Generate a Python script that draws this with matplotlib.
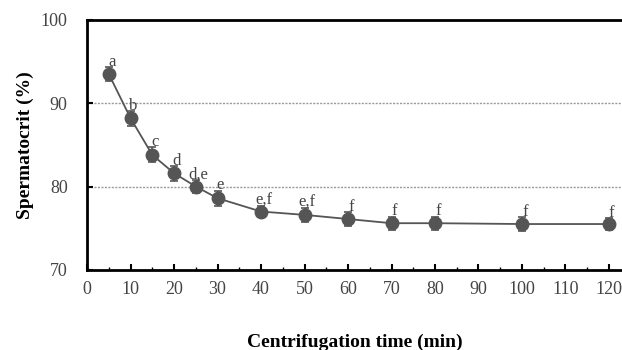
import numpy as np
from matplotlib import pyplot as plt
from matplotlib.ticker import MultipleLocator

time_min = [5, 10, 15, 20, 25, 30, 40, 50, 60, 70, 80, 100, 120]
spermatocrit = [93.5, 88.2, 83.8, 81.6, 80.0, 78.6, 77.0, 76.6, 76.1, 75.6, 75.6, 75.5, 75.5]
sem = [0.8, 0.9, 0.9, 0.9, 0.8, 0.9, 0.7, 0.8, 0.8, 0.8, 0.8, 0.8, 0.7]
letters = ['a', 'b', 'c', 'd', 'd,e', 'e', 'e,f', 'e,f', 'f', 'f', 'f', 'f', 'f']

plt.rcParams['font.family'] = ['Liberation Serif', 'DejaVu Serif']

fig = plt.figure(figsize=(6.22, 3.5), dpi=100)
ax = fig.add_axes([0.14, 0.229, 0.86, 0.714])

ax.set_xlim(0, 123)
ax.set_ylim(70, 100)

for y in (80, 90):
    ax.axhline(y, color='#9a9a9a', lw=1.0, ls=(0, (1.5, 1)), zorder=0)

ax.errorbar(time_min, spermatocrit, yerr=sem, fmt='-o', color='#555555',
            ecolor='#555555', elinewidth=1.2, capsize=3, capthick=1.2,
            markersize=9, markerfacecolor='#555555', markeredgecolor='#555555',
            lw=1.3, zorder=3)

for x, y, s, lab in zip(time_min, spermatocrit, sem, letters):
    ax.annotate(lab, (x, y + s), xytext=(2, -2), textcoords='offset points',
                ha='center', va='bottom', fontsize=12, color='#444444')

ax.xaxis.set_major_locator(MultipleLocator(10))
ax.xaxis.set_minor_locator(MultipleLocator(5))
ax.yaxis.set_major_locator(MultipleLocator(10))
ax.tick_params(axis='both', which='major', direction='in', length=4, width=1.5,
               labelsize=13, colors='black', labelcolor='#444444', pad=8)
ax.tick_params(axis='x', which='minor', direction='in', length=2, width=1.0)
ax.tick_params(axis='y', pad=14)

for side in ('left', 'bottom', 'top'):
    ax.spines[side].set_linewidth(2.0)
ax.spines['right'].set_visible(False)

ax.set_xlabel('Centrifugation time (min)', fontsize=14, fontweight='bold', labelpad=26)
ax.set_ylabel('Spermatocrit (%)', fontsize=14, fontweight='bold', labelpad=5)

fig.savefig('out.png', dpi=100)
